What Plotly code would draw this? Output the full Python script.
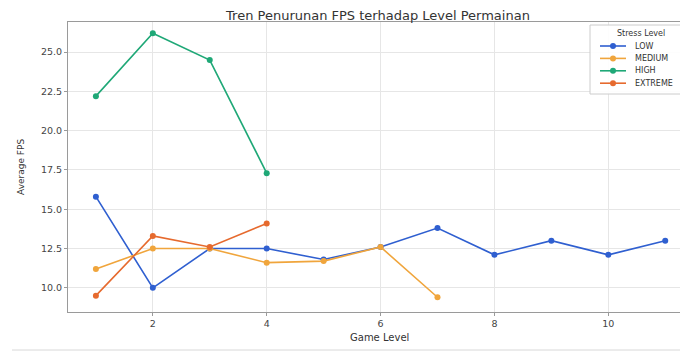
import plotly.graph_objects as go

levels_low = [1, 2, 3, 4, 5, 6, 7, 8, 9, 10, 11]
fps_low = [15.8, 10.0, 12.5, 12.5, 11.8, 12.6, 13.8, 12.1, 13.0, 12.1, 13.0]

levels_medium = [1, 2, 3, 4, 5, 6, 7]
fps_medium = [11.2, 12.5, 12.5, 11.6, 11.7, 12.6, 9.4]

levels_high = [1, 2, 3, 4]
fps_high = [22.2, 26.2, 24.5, 17.3]

levels_extreme = [1, 2, 3, 4]
fps_extreme = [9.5, 13.3, 12.6, 14.1]

series_names = ["LOW", "MEDIUM", "HIGH", "EXTREME"]
series_colors = ["#2f5fd0", "#f0a53c", "#1fa877", "#e66a2e"]

x_ticks = [2, 4, 6, 8, 10]
y_ticks = [10.0, 12.5, 15.0, 17.5, 20.0, 22.5, 25.0]

data = [
    (levels_low, fps_low),
    (levels_medium, fps_medium),
    (levels_high, fps_high),
    (levels_extreme, fps_extreme),
]

OFF = 8  # default page body margin
W, H = 688 - OFF, 351 - OFF
ML, MR, MT, MB = 68 - OFF, 0, 22 - OFF, 351 - 312
PW, PH = W - ML - MR, H - MT - MB


def px(xp):
    return (xp - OFF - ML) / PW


def py(yp):
    return (H - MB - (yp - OFF)) / PH


fig = go.Figure()
for (xs, ys), name, color in zip(data, series_names, series_colors):
    fig.add_trace(go.Scatter(
        x=xs, y=ys, name=name, mode="lines+markers",
        line=dict(color=color, width=1.6),
        marker=dict(color=color, size=6),
        showlegend=False,
    ))

axis_common = dict(
    showgrid=True, gridcolor="#e6e6e6", gridwidth=1,
    showline=True, linecolor="#9a9a9a", linewidth=1, mirror=True,
    ticks="outside", ticklen=3, tickcolor="#9a9a9a",
    tickfont=dict(size=9.5, color="#444"), zeroline=False,
    automargin=False,
)

shapes = []
annotations = []

# legend box (drawn manually for compact spacing)
shapes.append(dict(type="rect", xref="paper", yref="paper",
                   x0=px(590), x1=px(692), y0=py(94), y1=py(25),
                   line=dict(color="#cccccc", width=1),
                   fillcolor="rgba(255,255,255,0.9)", layer="above"))
annotations.append(dict(text="Stress Level", xref="paper", yref="paper",
                        x=px(641), y=py(34), xanchor="center", yanchor="middle",
                        showarrow=False, font=dict(size=8, color="#333")))
for i, (name, color) in enumerate(zip(series_names, series_colors)):
    yy = 46 + i * 12.4
    shapes.append(dict(type="line", xref="paper", yref="paper",
                       x0=px(600), x1=px(626), y0=py(yy), y1=py(yy),
                       line=dict(color=color, width=1.6), layer="above"))
    shapes.append(dict(type="circle", xref="paper", yref="paper",
                       x0=px(610), x1=px(616), y0=py(yy + 3), y1=py(yy - 3),
                       line=dict(color=color, width=0), fillcolor=color,
                       layer="above"))
    annotations.append(dict(text=name, xref="paper", yref="paper",
                            x=px(633), y=py(yy), xanchor="left", yanchor="middle",
                            showarrow=False, font=dict(size=8, color="#333")))

# axis titles
annotations.append(dict(text="Game Level", xref="paper", yref="paper",
                        x=px(380), y=py(337), xanchor="center", yanchor="middle",
                        showarrow=False, font=dict(size=10, color="#333")))
annotations.append(dict(text="Average FPS", xref="paper", yref="paper",
                        x=px(21), y=py(167), xanchor="center", yanchor="middle",
                        textangle=-90, showarrow=False,
                        font=dict(size=9, color="#333")))

# thin grey line at bottom of picture
shapes.append(dict(type="line", xref="paper", yref="paper",
                   x0=px(12), x1=px(688), y0=py(350), y1=py(350),
                   line=dict(color="#d8d8d8", width=1)))

fig.update_layout(
    width=W, height=H,
    margin=dict(l=ML, r=MR, t=MT, b=MB),
    paper_bgcolor="white", plot_bgcolor="white",
    font=dict(family="DejaVu Sans", color="#333"),
    title=dict(text="Tren Penurunan FPS terhadap Level Permainan",
               x=px(378), xref="paper", xanchor="center",
               y=(H - (15 - OFF)) / H, yanchor="middle",
               font=dict(size=13, color="#333")),
    xaxis=dict(range=[0.51, 11.4], tickvals=x_ticks, **axis_common),
    yaxis=dict(range=[8.46, 26.92], tickvals=y_ticks, tickformat=".1f",
               **axis_common),
    shapes=shapes,
    annotations=annotations,
    showlegend=False,
)

fig.write_html("out.html")
